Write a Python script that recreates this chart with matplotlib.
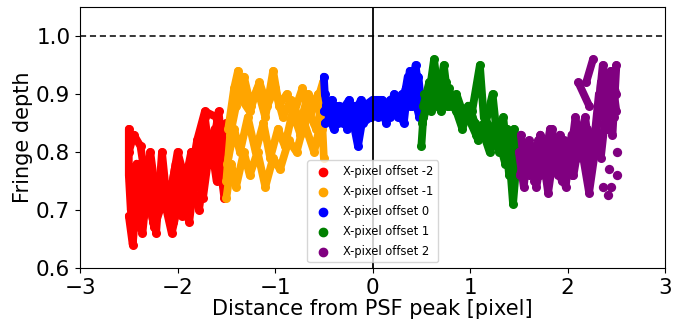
import matplotlib
matplotlib.use("Agg")
import matplotlib.pyplot as plt

# Fringe depth traces per X-pixel offset: lists of (x, y) vertex arrays
offset_labels = ["X-pixel offset -2", "X-pixel offset -1", "X-pixel offset 0",
                 "X-pixel offset 1", "X-pixel offset 2"]
offset_colors = ["red", "orange", "blue", "green", "purple"]

red_x = [
    [-2.50, -2.50, -2.48, -2.42, -2.35, -2.28, -2.20, -2.12, -2.05, -1.98, -1.90, -1.80, -1.72, -1.60, -1.55, -1.52],
    [-2.50, -2.46, -2.42, -2.36, -2.30, -2.22, -2.16, -2.10, -2.02, -1.95, -1.85, -1.78, -1.70, -1.62, -1.55, -1.50],
    [-2.50, -2.45, -2.38, -2.30, -2.25, -2.18, -2.08, -2.00, -1.92, -1.86, -1.78, -1.72, -1.66, -1.58, -1.52],
    [-2.49, -2.40, -2.32, -2.24, -2.14, -2.06, -1.98, -1.88, -1.80, -1.74, -1.66, -1.60, -1.54, -1.51],
]
red_y = [
    [0.84, 0.76, 0.70, 0.78, 0.69, 0.80, 0.70, 0.74, 0.68, 0.76, 0.72, 0.82, 0.87, 0.86, 0.76, 0.72],
    [0.69, 0.64, 0.72, 0.66, 0.76, 0.66, 0.80, 0.70, 0.78, 0.69, 0.74, 0.70, 0.80, 0.84, 0.80, 0.85],
    [0.80, 0.83, 0.81, 0.72, 0.68, 0.76, 0.72, 0.80, 0.75, 0.80, 0.74, 0.86, 0.78, 0.87, 0.78],
    [0.75, 0.67, 0.74, 0.67, 0.72, 0.66, 0.72, 0.68, 0.79, 0.72, 0.82, 0.75, 0.84, 0.80],
]

orange_x = [
    [-1.50, -1.45, -1.40, -1.32, -1.26, -1.18, -1.10, -1.02, -0.95, -0.86, -0.78, -0.70, -0.60, -0.52, -0.50],
    [-1.49, -1.42, -1.36, -1.28, -1.20, -1.12, -1.05, -0.97, -0.90, -0.82, -0.74, -0.66, -0.58, -0.52],
    [-1.48, -1.42, -1.38, -1.34, -1.26, -1.18, -1.10, -1.02, -0.96, -0.88, -0.80, -0.72, -0.64, -0.56, -0.52],
    [-1.50, -1.46, -1.40, -1.32, -1.25, -1.16, -1.08, -1.00, -0.92, -0.84, -0.74, -0.66, -0.58, -0.51],
]
orange_y = [
    [0.72, 0.78, 0.74, 0.80, 0.76, 0.80, 0.74, 0.79, 0.77, 0.82, 0.80, 0.85, 0.80, 0.86, 0.79],
    [0.78, 0.84, 0.80, 0.86, 0.80, 0.85, 0.79, 0.84, 0.81, 0.87, 0.83, 0.87, 0.84, 0.88],
    [0.84, 0.91, 0.94, 0.89, 0.87, 0.91, 0.86, 0.94, 0.88, 0.90, 0.87, 0.91, 0.86, 0.90, 0.84],
    [0.75, 0.83, 0.88, 0.93, 0.88, 0.92, 0.88, 0.91, 0.86, 0.89, 0.85, 0.90, 0.88, 0.92],
]

blue_x = [
    [-0.50, -0.49, -0.45, -0.38, -0.30, -0.22, -0.15, -0.10, -0.02, 0.06, 0.15, 0.22, 0.30, 0.38, 0.44, 0.48],
    [-0.50, -0.42, -0.35, -0.28, -0.20, -0.12, -0.05, 0.02, 0.10, 0.18, 0.26, 0.34, 0.40, 0.47, 0.50],
    [-0.49, -0.42, -0.34, -0.26, -0.18, -0.10, -0.02, 0.08, 0.14, 0.22, 0.30, 0.36, 0.42, 0.48],
    [-0.48, -0.40, -0.32, -0.24, -0.16, -0.08, 0.00, 0.10, 0.18, 0.24, 0.32, 0.38, 0.44, 0.50],
]
blue_y = [
    [0.93, 0.90, 0.86, 0.88, 0.85, 0.87, 0.81, 0.86, 0.88, 0.86, 0.88, 0.87, 0.90, 0.88, 0.95, 0.90],
    [0.87, 0.89, 0.85, 0.88, 0.86, 0.89, 0.87, 0.89, 0.87, 0.89, 0.86, 0.91, 0.88, 0.93, 0.88],
    [0.85, 0.86, 0.88, 0.84, 0.88, 0.85, 0.86, 0.88, 0.85, 0.90, 0.87, 0.93, 0.90, 0.86],
    [0.88, 0.84, 0.87, 0.89, 0.85, 0.88, 0.89, 0.89, 0.86, 0.88, 0.85, 0.94, 0.89, 0.86],
]

green_x = [
    [0.50, 0.52, 0.58, 0.63, 0.68, 0.75, 0.82, 0.90, 0.98, 1.05, 1.12, 1.20, 1.28, 1.36, 1.42, 1.48],
    [0.52, 0.58, 0.66, 0.73, 0.78, 0.86, 0.94, 1.02, 1.10, 1.14, 1.22, 1.30, 1.38, 1.44, 1.48],
    [0.51, 0.56, 0.62, 0.70, 0.78, 0.86, 0.92, 1.00, 1.08, 1.16, 1.23, 1.28, 1.34, 1.40, 1.46, 1.50],
    [0.53, 0.60, 0.68, 0.76, 0.84, 0.92, 0.98, 1.06, 1.14, 1.20, 1.26, 1.33, 1.38, 1.45, 1.50],
]
green_y = [
    [0.81, 0.86, 0.90, 0.96, 0.89, 0.92, 0.88, 0.86, 0.88, 0.85, 0.84, 0.80, 0.83, 0.78, 0.80, 0.76],
    [0.88, 0.92, 0.88, 0.95, 0.88, 0.90, 0.86, 0.87, 0.95, 0.86, 0.84, 0.80, 0.84, 0.71, 0.79],
    [0.85, 0.88, 0.91, 0.87, 0.91, 0.87, 0.84, 0.88, 0.82, 0.85, 0.90, 0.82, 0.86, 0.76, 0.82, 0.78],
    [0.90, 0.87, 0.91, 0.88, 0.89, 0.85, 0.86, 0.83, 0.85, 0.81, 0.84, 0.85, 0.79, 0.84, 0.80],
]

purple_x = [
    [1.50, 1.55, 1.60, 1.66, 1.72, 1.78, 1.84, 1.90, 1.96, 2.02, 2.08, 2.14, 2.20, 2.26, 2.32, 2.38, 2.44, 2.50],
    [1.52, 1.56, 1.62, 1.68, 1.74, 1.80, 1.86, 1.92, 1.98, 2.04, 2.10, 2.16, 2.22, 2.28, 2.34, 2.40, 2.46, 2.50],
    [1.51, 1.58, 1.64, 1.70, 1.76, 1.82, 1.88, 1.94, 2.00, 2.06, 2.12, 2.18, 2.24, 2.30, 2.36, 2.42, 2.48],
    [1.53, 1.60, 1.66, 1.72, 1.78, 1.85, 1.92, 1.98, 2.04, 2.10, 2.16, 2.22, 2.28, 2.34, 2.40, 2.46, 2.50],
    [2.11, 2.22],
    [2.26, 2.19],
]
purple_y = [
    [0.80, 0.74, 0.82, 0.75, 0.83, 0.77, 0.84, 0.76, 0.82, 0.78, 0.86, 0.80, 0.84, 0.80, 0.90, 0.86, 0.94, 0.90],
    [0.83, 0.77, 0.79, 0.74, 0.80, 0.73, 0.80, 0.78, 0.74, 0.83, 0.79, 0.84, 0.76, 0.83, 0.79, 0.88, 0.83, 0.95],
    [0.76, 0.80, 0.77, 0.82, 0.78, 0.84, 0.79, 0.75, 0.81, 0.76, 0.82, 0.86, 0.78, 0.85, 0.95, 0.89, 0.86],
    [0.79, 0.76, 0.81, 0.76, 0.82, 0.78, 0.83, 0.79, 0.76, 0.83, 0.79, 0.73, 0.80, 0.92, 0.84, 0.92, 0.87],
    [0.92, 0.88],
    [0.96, 0.92],
]
# Scattered single frames at the right edge of offset +2
purple_single_x = [2.51, 2.42, 2.44, 2.41, 2.51, 2.36]
purple_single_y = [0.80, 0.77, 0.74, 0.725, 0.76, 0.74]

groups_x = [red_x, orange_x, blue_x, green_x, purple_x]
groups_y = [red_y, orange_y, blue_y, green_y, purple_y]

x_ticks = [-3, -2, -1, 0, 1, 2, 3]
y_ticks = [0.6, 0.7, 0.8, 0.9, 1.0]

fig = plt.figure(figsize=(6.9, 3.24), dpi=100)
ax = fig.add_axes([0.116, 0.173, 0.848, 0.805])

for xs_list, ys_list, color in zip(groups_x, groups_y, offset_colors):
    for xs, ys in zip(xs_list, ys_list):
        ax.plot(xs, ys, "-o", color=color, lw=5.6, ms=6.5, mew=0,
                solid_joinstyle="round", solid_capstyle="round", zorder=2)
ax.scatter(purple_single_x, purple_single_y, s=45, color="purple", lw=0, zorder=2)

# Legend entries drawn as single dots
handles = [ax.scatter([], [], s=36, color=c, label=l)
           for c, l in zip(offset_colors, offset_labels)]

ax.axvline(0, color="black", lw=1.3, zorder=3)
ax.axhline(1.0, color="black", lw=1.1, ls=(0, (4, 2.5)), zorder=3)

ax.set_xlim(-3, 3)
ax.set_ylim(0.6, 1.05)
ax.set_xticks(x_ticks)
ax.set_yticks(y_ticks)
ax.tick_params(labelsize=15.5)
ax.set_xlabel("Distance from PSF peak [pixel]", fontsize=15, labelpad=1)
ax.set_ylabel("Fringe depth", fontsize=15, labelpad=2)

ax.legend(handles=handles, loc="lower center", borderaxespad=0.5,
          fontsize=8.3, framealpha=0.8, handletextpad=0.7, labelspacing=0.6)

fig.savefig("out.png", dpi=100)
